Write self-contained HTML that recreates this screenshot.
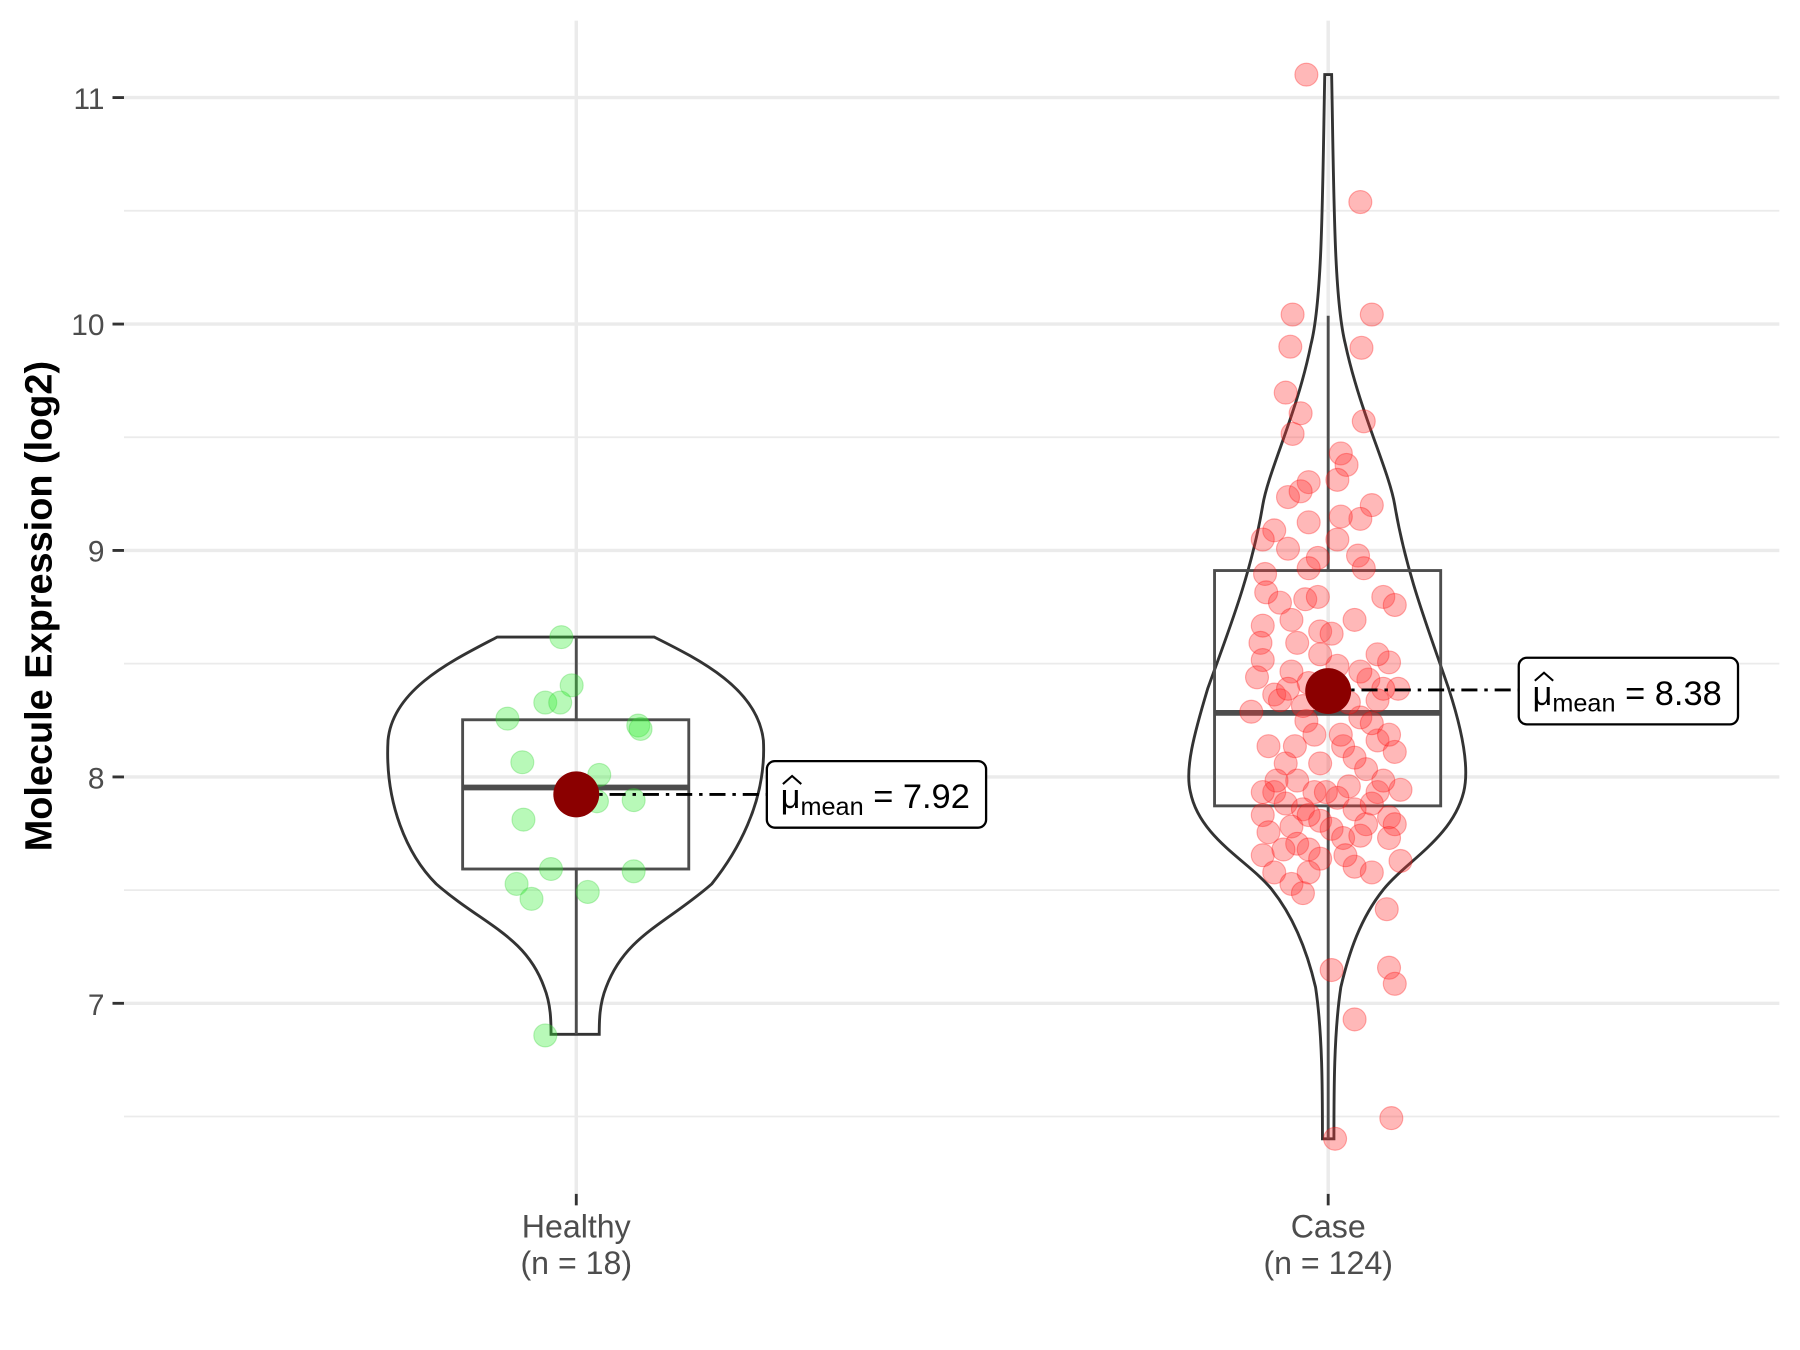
<!DOCTYPE html>
<html><head><meta charset="utf-8"><style>html,body{margin:0;padding:0;background:#fff}svg{display:block}</style></head>
<body>
<svg width="1800" height="1350" viewBox="0 0 1568 1176" xmlns="http://www.w3.org/2000/svg" font-family="Liberation Sans, Arial, sans-serif">
<rect width="1568" height="1176" fill="#fff"/>
<g stroke="#ebebeb" stroke-width="1.5">
<line x1="108" x2="1550" y1="183.6" y2="183.6"/><line x1="108" x2="1550" y1="380.9" y2="380.9"/><line x1="108" x2="1550" y1="578.1" y2="578.1"/><line x1="108" x2="1550" y1="775.4" y2="775.4"/><line x1="108" x2="1550" y1="972.6" y2="972.6"/>
</g>
<g stroke="#ebebeb" stroke-width="3">
<line x1="108" x2="1550" y1="85" y2="85"/><line x1="108" x2="1550" y1="282.3" y2="282.3"/><line x1="108" x2="1550" y1="479.5" y2="479.5"/><line x1="108" x2="1550" y1="676.8" y2="676.8"/><line x1="108" x2="1550" y1="874" y2="874"/>
<line x1="502" x2="502" y1="18" y2="1040"/><line x1="1157" x2="1157" y1="18" y2="1040"/>
</g>
<g font-size="26" fill="#4d4d4d" text-anchor="end">
<text x="91" y="95">11</text><text x="91" y="292">10</text><text x="91" y="489">9</text><text x="91" y="687">8</text><text x="91" y="884">7</text>
</g>
<g stroke="#333" stroke-width="2.5">
<line x1="98" x2="108" y1="85" y2="85"/><line x1="98" x2="108" y1="282.3" y2="282.3"/><line x1="98" x2="108" y1="479.5" y2="479.5"/><line x1="98" x2="108" y1="676.8" y2="676.8"/><line x1="98" x2="108" y1="874" y2="874"/>
<line x1="502" x2="502" y1="1040" y2="1050"/><line x1="1157" x2="1157" y1="1040" y2="1050"/>
</g>
<g font-size="28" fill="#4d4d4d" text-anchor="middle">
<text x="502" y="1078">Healthy</text><text x="502" y="1110">(n = 18)</text>
<text x="1157" y="1078">Case</text><text x="1157" y="1110">(n = 124)</text>
</g>
<text transform="translate(45,528) rotate(-90)" font-size="33" font-weight="bold" text-anchor="middle" fill="#000">Molecule Expression (log2)</text>

<path d="M433,555 L570,555 C610,575 660,600 665,645 C668,700 640,745 620,770 C580,805 545,815 528,860 C522,875 522,890 522,901 L480,901 C480,890 480,875 474,860 C458,815 420,805 380,770 C355,745 335,700 338,645 C342,600 395,575 433,555 Z" fill="none" stroke="#333" stroke-width="2.5"/>
<path d="M1154,65 L1160,65 C1162,170 1162,260 1172,300 C1185,360 1210,410 1215,440 C1225,500 1245,550 1262,600 C1275,640 1280,670 1275,690 C1265,730 1225,750 1205,775 C1185,800 1175,830 1168,860 C1162,900 1162,950 1162,992 L1152,992 C1152,950 1152,900 1146,860 C1139,830 1128,800 1108,775 C1088,750 1045,730 1037,690 C1032,670 1040,640 1052,600 C1070,550 1090,500 1100,440 C1105,410 1130,360 1142,300 C1152,260 1152,170 1154,65 Z" fill="none" stroke="#333" stroke-width="2.5"/>

<g stroke="#4d4d4d" stroke-width="2.5" fill="none">
<line x1="502" x2="502" y1="555" y2="627"/><line x1="502" x2="502" y1="757" y2="901"/>
<rect x="403" y="627" width="197" height="130"/>
<line x1="1157" x2="1157" y1="275" y2="497"/><line x1="1157" x2="1157" y1="702" y2="992"/>
<rect x="1058" y="497" width="197" height="205"/>
</g>
<line x1="403" x2="600" y1="686" y2="686" stroke="#4d4d4d" stroke-width="5"/>
<line x1="1058" x2="1255" y1="621" y2="621" stroke="#4d4d4d" stroke-width="5"/>

<g fill="#33ee33" fill-opacity="0.35" stroke="#33cc33" stroke-opacity="0.3">
<circle cx="489" cy="555" r="10"/><circle cx="498" cy="597" r="10"/><circle cx="475" cy="612" r="10"/><circle cx="488" cy="612" r="10"/><circle cx="442" cy="626" r="10"/><circle cx="556" cy="632" r="10"/><circle cx="558" cy="635" r="10"/><circle cx="455" cy="664" r="10"/><circle cx="522" cy="675" r="10"/><circle cx="520" cy="698" r="10"/><circle cx="552" cy="697" r="10"/><circle cx="456" cy="714" r="10"/><circle cx="480" cy="757" r="10"/><circle cx="552" cy="759" r="10"/><circle cx="450" cy="770" r="10"/><circle cx="463" cy="783" r="10"/><circle cx="512" cy="777" r="10"/><circle cx="475" cy="902" r="10"/>
</g>
<g fill="#ff3333" fill-opacity="0.35" stroke="#ff0000" stroke-opacity="0.3">
<circle cx="1138" cy="65" r="10"/><circle cx="1185" cy="176" r="10"/><circle cx="1126" cy="274" r="10"/><circle cx="1195" cy="274" r="10"/><circle cx="1124" cy="302" r="10"/><circle cx="1186" cy="303" r="10"/><circle cx="1120" cy="342" r="10"/><circle cx="1133" cy="360" r="10"/><circle cx="1188" cy="367" r="10"/><circle cx="1126" cy="378" r="10"/><circle cx="1168" cy="395" r="10"/><circle cx="1173" cy="405" r="10"/><circle cx="1165" cy="418" r="10"/><circle cx="1140" cy="420" r="10"/><circle cx="1122" cy="433" r="10"/><circle cx="1133" cy="428" r="10"/><circle cx="1195" cy="440" r="10"/><circle cx="1185" cy="452" r="10"/><circle cx="1168" cy="450" r="10"/><circle cx="1140" cy="455" r="10"/><circle cx="1110" cy="462" r="10"/><circle cx="1100" cy="470" r="10"/><circle cx="1122" cy="478" r="10"/><circle cx="1183" cy="484" r="10"/><circle cx="1148" cy="486" r="10"/><circle cx="1102" cy="500" r="10"/><circle cx="1188" cy="495" r="10"/><circle cx="1140" cy="495" r="10"/><circle cx="1103" cy="516" r="10"/><circle cx="1205" cy="520" r="10"/><circle cx="1137" cy="522" r="10"/><circle cx="1215" cy="527" r="10"/><circle cx="1100" cy="545" r="10"/><circle cx="1150" cy="550" r="10"/><circle cx="1160" cy="552" r="10"/><circle cx="1098" cy="560" r="10"/><circle cx="1100" cy="575" r="10"/><circle cx="1210" cy="577" r="10"/><circle cx="1165" cy="580" r="10"/><circle cx="1125" cy="585" r="10"/><circle cx="1095" cy="590" r="10"/><circle cx="1192" cy="592" r="10"/><circle cx="1140" cy="595" r="10"/><circle cx="1218" cy="600" r="10"/><circle cx="1110" cy="605" r="10"/><circle cx="1200" cy="610" r="10"/><circle cx="1185" cy="625" r="10"/><circle cx="1138" cy="628" r="10"/><circle cx="1105" cy="650" r="10"/><circle cx="1170" cy="650" r="10"/><circle cx="1200" cy="645" r="10"/><circle cx="1215" cy="655" r="10"/><circle cx="1150" cy="665" r="10"/><circle cx="1120" cy="665" r="10"/><circle cx="1190" cy="670" r="10"/><circle cx="1130" cy="680" r="10"/><circle cx="1175" cy="685" r="10"/><circle cx="1110" cy="690" r="10"/><circle cx="1200" cy="690" r="10"/><circle cx="1220" cy="688" r="10"/><circle cx="1145" cy="690" r="10"/><circle cx="1165" cy="695" r="10"/><circle cx="1120" cy="700" r="10"/><circle cx="1180" cy="705" r="10"/><circle cx="1135" cy="705" r="10"/><circle cx="1100" cy="710" r="10"/><circle cx="1210" cy="712" r="10"/><circle cx="1150" cy="715" r="10"/><circle cx="1125" cy="720" r="10"/><circle cx="1190" cy="718" r="10"/><circle cx="1160" cy="722" r="10"/><circle cx="1215" cy="718" r="10"/><circle cx="1130" cy="735" r="10"/><circle cx="1105" cy="725" r="10"/><circle cx="1170" cy="730" r="10"/><circle cx="1185" cy="728" r="10"/><circle cx="1210" cy="730" r="10"/><circle cx="1140" cy="740" r="10"/><circle cx="1100" cy="745" r="10"/><circle cx="1150" cy="748" r="10"/><circle cx="1180" cy="755" r="10"/><circle cx="1220" cy="750" r="10"/><circle cx="1110" cy="760" r="10"/><circle cx="1125" cy="770" r="10"/><circle cx="1135" cy="778" r="10"/><circle cx="1208" cy="792" r="10"/><circle cx="1160" cy="845" r="10"/><circle cx="1210" cy="843" r="10"/><circle cx="1215" cy="857" r="10"/><circle cx="1180" cy="888" r="10"/><circle cx="1212" cy="974" r="10"/><circle cx="1163" cy="992" r="10"/>
<circle cx="1115" cy="610" r="10"/><circle cx="1195" cy="630" r="10"/><circle cx="1145" cy="640" r="10"/><circle cx="1175" cy="612" r="10"/><circle cx="1205" cy="600" r="10"/><circle cx="1130" cy="560" r="10"/><circle cx="1180" cy="540" r="10"/><circle cx="1115" cy="525" r="10"/><circle cx="1200" cy="570" r="10"/><circle cx="1090" cy="620" r="10"/><circle cx="1160" cy="600" r="10"/><circle cx="1128" cy="650" r="10"/><circle cx="1195" cy="700" r="10"/><circle cx="1140" cy="710" r="10"/><circle cx="1112" cy="680" r="10"/><circle cx="1180" cy="660" r="10"/><circle cx="1150" cy="570" r="10"/><circle cx="1165" cy="470" r="10"/><circle cx="1125" cy="540" r="10"/><circle cx="1210" cy="640" r="10"/><circle cx="1100" cy="690" r="10"/><circle cx="1172" cy="745" r="10"/><circle cx="1140" cy="760" r="10"/><circle cx="1195" cy="760" r="10"/><circle cx="1122" cy="600" r="10"/><circle cx="1185" cy="585" r="10"/><circle cx="1155" cy="690" r="10"/><circle cx="1118" cy="740" r="10"/><circle cx="1205" cy="680" r="10"/><circle cx="1148" cy="520" r="10"/><circle cx="1168" cy="640" r="10"/><circle cx="1135" cy="615" r="10"/>
</g>

<line x1="502" x2="668" y1="692" y2="692" stroke="#000" stroke-width="2.5" stroke-dasharray="14,6,3,6"/>
<line x1="1157" x2="1323" y1="601" y2="601" stroke="#000" stroke-width="2.5" stroke-dasharray="14,6,3,6"/>
<circle cx="502" cy="692" r="20" fill="#8b0000"/>
<circle cx="1157" cy="602" r="20" fill="#8b0000"/>
<rect x="668" y="663" width="191" height="58" rx="7" fill="#fff" stroke="#000" stroke-width="2"/>
<rect x="1323" y="573" width="191" height="58" rx="7" fill="#fff" stroke="#000" stroke-width="2"/>
<g font-size="30" fill="#000">
<text x="680" y="704">μ<tspan font-size="22" dy="6">mean</tspan><tspan dy="-6"> = 7.92</tspan></text>
<text x="1335" y="614">μ<tspan font-size="22" dy="6">mean</tspan><tspan dy="-6"> = 8.38</tspan></text>
</g>
<path d="M682,683 L690,676 L698,683" fill="none" stroke="#000" stroke-width="1.8"/>
<path d="M1337,593 L1345,586 L1353,593" fill="none" stroke="#000" stroke-width="1.8"/>
</svg>
</body></html>
